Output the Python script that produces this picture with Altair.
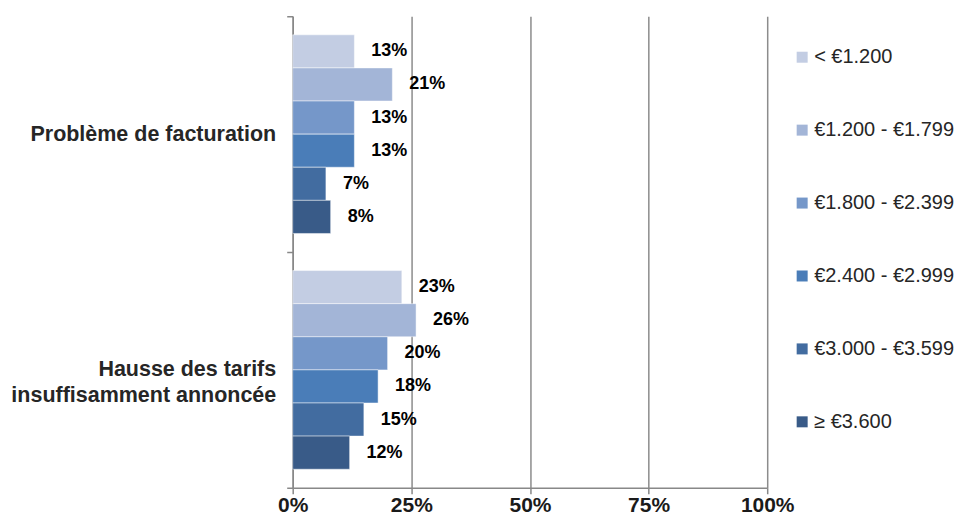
import altair as alt
import pandas as pd

categories = ["Problème de facturation", "Hausse des tarifs insuffisamment annoncée"]
series = ["< €1.200", "€1.200 - €1.799", "€1.800 - €2.399", "€2.400 - €2.999", "€3.000 - €3.599", "≥ €3.600"]
vals_facturation = [13, 21, 13, 13, 7, 8]
vals_hausse = [23, 26, 20, 18, 15, 12]
colors = ["#C3CDE3", "#A3B5D7", "#7597C9", "#4A7DB8", "#426CA0", "#395B88"]
x_ticks = [0, 25, 50, 75, 100]

rows = []
for cat, vals in zip(categories, [vals_facturation, vals_hausse]):
    for s, v in zip(series, vals):
        rows.append({"cat": cat, "series": s, "value": v / 100, "label": f"{v}%"})
df = pd.DataFrame(rows)

FONT = "Liberation Sans"

y_enc = alt.Y("cat:N", sort=categories, title=None,
              scale=alt.Scale(paddingInner=0, paddingOuter=0),
              axis=alt.Axis(labelFontSize=21.5, labelFontWeight="bold", labelColor="#262626",
                            labelFont=FONT, labelPadding=11, tickBand="extent", tickSize=6,
                            tickColor="#888888", domainColor="#888888", domainWidth=1.5,
                            tickWidth=1.5, labelLimit=300, minExtent=285, maxExtent=285,
                            labelLineHeight=26,
                            labelExpr="datum.label == 'Hausse des tarifs insuffisamment annoncée' ? ['Hausse des tarifs', 'insuffisamment annoncée'] : datum.label"))
yoff = alt.YOffset("series:N", sort=series, scale=alt.Scale(paddingInner=0, paddingOuter=0.56))

bars = alt.Chart(df).mark_bar(stroke="white", strokeWidth=0.8, strokeOpacity=0.6).encode(
    x=alt.X("value:Q", scale=alt.Scale(domain=[0, 1]), title=None,
            axis=alt.Axis(values=[t / 100 for t in x_ticks], format=".0%", labelFontSize=21,
                          labelFontWeight="bold", labelColor="#1A1A1A", labelFont=FONT,
                          labelFlush=False, labelOverlap=False,
                          grid=True, gridColor="#8C8C8C", gridWidth=1.5, tickSize=6,
                          tickWidth=1.5, tickColor="#888888", domainColor="#888888",
                          domainWidth=1.5, labelPadding=1)),
    y=y_enc,
    yOffset=yoff,
    color=alt.Color("series:N", sort=series,
                    scale=alt.Scale(domain=series, range=colors),
                    legend=alt.Legend(title=None, orient="none", legendX=500, legendY=31,
                                      symbolType="square", symbolSize=121, symbolStrokeWidth=0,
                                      labelFontSize=20, labelColor="#262626", labelFont=FONT,
                                      rowPadding=53, labelOffset=2, labelLimit=300)),
)

text = alt.Chart(df).mark_text(align="left", dx=17, fontSize=18, fontWeight="bold",
                               font=FONT, color="#000000").encode(
    x="value:Q",
    y=alt.Y("cat:N", sort=categories),
    yOffset=yoff,
    text="label:N",
)

chart = alt.layer(bars, text).properties(
    width=475, height=472,
    padding={"left": 0, "top": -3, "right": 0, "bottom": 0},
).configure_view(stroke=None).configure_axis(gridOpacity=1)

chart.save("out.html", embed_options={"renderer": "svg", "actions": False})
